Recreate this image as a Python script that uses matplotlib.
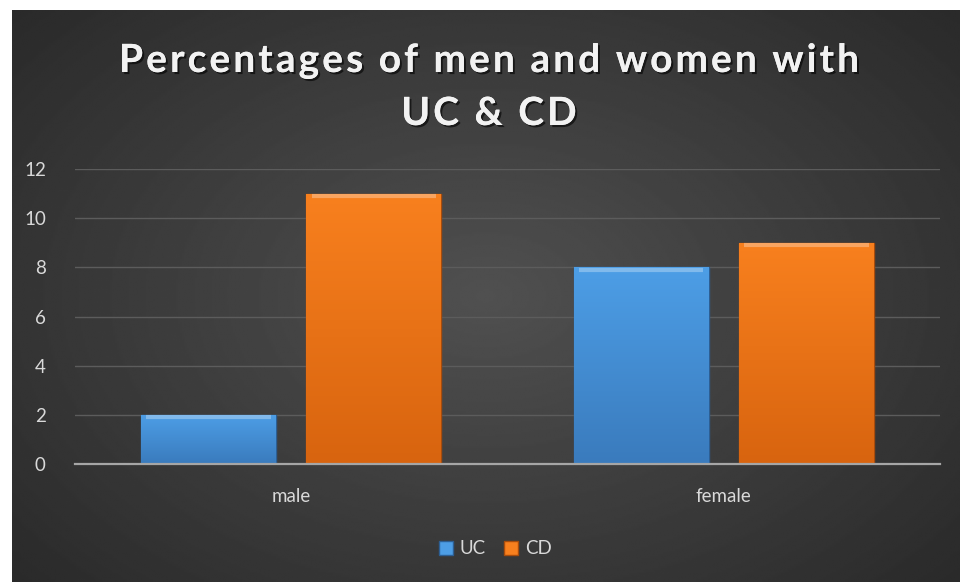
import matplotlib
matplotlib.use("Agg")
import matplotlib.pyplot as plt
import matplotlib.patheffects as pe
from matplotlib.patches import Patch
from matplotlib.colors import LinearSegmentedColormap
from matplotlib.font_manager import FontProperties
import numpy as np

categories = ["male", "female"]
series_names = ["UC", "CD"]
uc_values = [2, 8]
cd_values = [11, 9]
y_ticks = [0, 2, 4, 6, 8, 10, 12]
title_lines = ["Percentages of men and women with", "UC & CD"]

plt.rcParams["font.family"] = ["Lato", "DejaVu Sans"]

W, H = 960, 582
fig = plt.figure(figsize=(W / 100, H / 100), dpi=100)
fig.patch.set_facecolor("white")

# dark radial background of the chart area
bg = fig.add_axes([12 / W, 0, (W - 12) / W, (H - 10) / H], zorder=0)
yy, xx = np.mgrid[-1:1:300j, -1:1:500j]
r = np.sqrt(xx ** 2 + (yy * 0.9) ** 2) / np.sqrt(1 + 0.81)
shade = 0.315 - 0.15 * r
bg.imshow(shade, cmap="gray", vmin=0, vmax=1, aspect="auto",
          extent=[0, 1, 0, 1], interpolation="bilinear")
bg.set_axis_off()

ax = fig.add_axes([75 / W, (H - 464) / H, 865 / W, 295 / H], zorder=1)
ax.patch.set_alpha(0)

x = np.arange(len(categories))
width = 0.312
offset = 0.191
colors = {"UC": ("#4d9ee6", "#3a7bbd", "#2d5f94"),
          "CD": ("#f8801e", "#d8640f", "#a84c0c")}

for vals, name, dx in [(uc_values, "UC", -offset), (cd_values, "CD", offset)]:
    top, bottom, edge = colors[name]
    bars = ax.bar(x + dx, vals, width, color=top, edgecolor=edge,
                  linewidth=1.0, zorder=3)
    cmap = LinearSegmentedColormap.from_list(name, [bottom, top])
    for b in bars:
        x0, y0 = b.get_x(), b.get_y()
        grad = np.linspace(0, 1, 100).reshape(-1, 1)
        im = ax.imshow(grad, cmap=cmap, origin="lower", aspect="auto",
                       extent=[x0, x0 + b.get_width(), y0, y0 + b.get_height()],
                       zorder=3.1)
        im.set_clip_path(b)
        # bevel highlight on top
        ax.plot([x0 + 0.012, x0 + b.get_width() - 0.012],
                [b.get_height() - 0.1, b.get_height() - 0.1],
                color="white", alpha=0.3, lw=3, zorder=3.2,
                solid_capstyle="butt")

ax.set_xlim(-0.5, len(categories) - 0.5)
ax.set_ylim(0, 12)
ax.set_yticks(y_ticks)
ax.set_xticks(x)
ax.set_xticklabels(categories)
ax.grid(axis="y", color="#5c5c5c", linewidth=1.0, zorder=0)
ax.set_axisbelow(True)
for s in ["top", "right", "left"]:
    ax.spines[s].set_visible(False)
ax.spines["bottom"].set_color("#a6a6a6")
ax.spines["bottom"].set_linewidth(1.6)
ax.spines["bottom"].set_zorder(4)
ax.tick_params(axis="y", length=0, pad=21, labelsize=13.5, labelcolor="#d9d9d9")
ax.tick_params(axis="x", length=0, pad=17, labelsize=13.5, labelcolor="#d9d9d9")

# title with letter spacing, drawn char by char
renderer = fig.canvas.get_renderer()
tprop = FontProperties(family="Lato", weight="bold", size=28)


def text_w(s):
    return renderer.get_text_width_height_descent(s, tprop, ismath=False)[0]


def advance(s):
    return text_w(s + "l") - text_w("l")


base_w = advance(title_lines[0])
spacing = (740 - base_w) / (len(title_lines[0]) - 1)
shadow = [pe.withSimplePatchShadow(offset=(1.5, -1.5), shadow_rgbFace="black", alpha=0.6),
          pe.Normal()]
for line, base_y in zip(title_lines, [72, 125]):
    total = advance(line) + spacing * (len(line) - 1)
    x_start = 489 - total / 2
    for i, ch in enumerate(line):
        if ch == " ":
            continue
        px = x_start + advance(line[:i]) + i * spacing
        fig.text(px / W, 1 - base_y / H, ch, ha="left", va="baseline",
                 fontproperties=tprop, color="#f2f2f2", path_effects=shadow)

handles = [Patch(facecolor=colors[n][0], edgecolor=colors[n][2]) for n in series_names]
leg = fig.legend(handles, series_names, loc="center", bbox_to_anchor=(495 / W, 1 - 549 / H),
                 ncol=2, frameon=False, fontsize=13.5, handlelength=0.75, handleheight=0.75,
                 handletextpad=0.35, columnspacing=1.0, labelcolor="#d9d9d9")

fig.savefig("out.png", dpi=100)
